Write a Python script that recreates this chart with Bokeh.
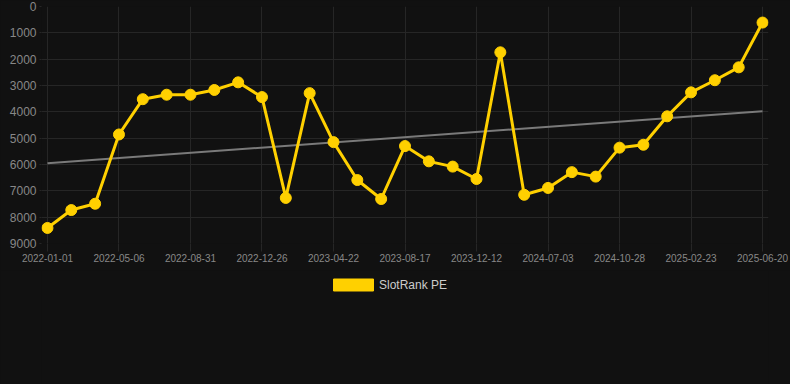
import numpy as np
from bokeh.plotting import figure
from bokeh.layouts import column
from bokeh.models import (Range1d, FixedTicker, Legend, LegendItem,
                          ColumnDataSource, NumeralTickFormatter)
from bokeh.embed import file_html
from bokeh.resources import INLINE

# ---- data ----
dates = ["2022-01-01", "2022-02-12", "2022-03-25", "2022-05-06", "2022-06-14",
         "2022-07-23", "2022-08-31", "2022-10-09", "2022-11-17", "2022-12-26",
         "2023-02-03", "2023-03-14", "2023-04-22", "2023-05-31", "2023-07-09",
         "2023-08-17", "2023-09-25", "2023-11-03", "2023-12-12", "2024-02-10",
         "2024-05-05", "2024-07-03", "2024-08-11", "2024-09-19", "2024-10-28",
         "2024-12-06", "2025-01-14", "2025-02-23", "2025-04-03", "2025-05-12",
         "2025-06-20"]
slotrank_pe = [8410, 7730, 7490, 4860, 3520, 3350, 3350, 3170, 2880, 3440,
               7270, 3290, 5150, 6590, 7310, 5300, 5880, 6080, 6550, 1740,
               7150, 6890, 6290, 6460, 5360, 5250, 4170, 3260, 2800, 2310, 610]
y_ticks = [0, 1000, 2000, 3000, 4000, 5000, 6000, 7000, 8000, 9000]
label_step = 3
series_name = "SlotRank PE"

idx = list(range(len(dates)))
x_ticks = idx[::label_step]
x_labels = {i: dates[i] for i in x_ticks}

# linear trend of the series
coef = np.polyfit(idx, slotrank_pe, 1)
trend_x = [idx[0], idx[-1]]
trend_y = [float(np.polyval(coef, t)) for t in trend_x]

BG = "#111111"
GOLD = "#FFD000"
GRID = "#262626"
TXT = "#888888"
PAD = 0.25  # small x padding so the end markers are not clipped

# ---------- main chart ----------
p = figure(width=790, height=270, output_backend="svg", toolbar_location=None,
           x_range=Range1d(idx[0] - PAD, idx[-1] + PAD),
           y_range=Range1d(9000, 0),
           min_border_left=41, min_border_right=22, min_border_top=6,
           min_border_bottom=27,
           background_fill_color=BG, border_fill_color=BG)
p.outline_line_color = None

p.xaxis.ticker = FixedTicker(ticks=x_ticks)
p.xaxis.major_label_overrides = x_labels
p.yaxis.ticker = FixedTicker(ticks=y_ticks)
p.yaxis.formatter = NumeralTickFormatter(format="0")
for ax in (p.xaxis[0], p.yaxis[0]):
    ax.axis_line_color = None
    ax.major_tick_line_color = GRID
    ax.major_tick_in = 0
    ax.minor_tick_line_color = None
    ax.major_label_text_color = TXT
    ax.major_label_text_font = "Liberation Sans"
p.xaxis.major_label_text_font_size = "10px"
p.yaxis.major_label_text_font_size = "12px"
p.xaxis.major_tick_out = 8
p.xaxis.major_label_standoff = 2
p.yaxis.major_tick_out = 2
p.yaxis.major_label_standoff = 3

p.xgrid.ticker = FixedTicker(ticks=x_ticks)
p.xgrid.grid_line_color = GRID
p.ygrid.grid_line_color = GRID

p.line(trend_x, trend_y, line_color="#7a7a7a", line_width=2)

src = ColumnDataSource(dict(x=idx, y=slotrank_pe))
p.line("x", "y", source=src, line_color=GOLD, line_width=3)
p.scatter("x", "y", source=src, size=11, fill_color=GOLD, line_color=GOLD)

# ---------- legend strip ----------
q = figure(width=790, height=114, output_backend="svg", toolbar_location=None,
           x_range=Range1d(0, 1), y_range=Range1d(0, 1),
           x_axis_type=None, y_axis_type=None,
           min_border_left=0, min_border_right=0, min_border_top=0,
           min_border_bottom=0,
           background_fill_color=BG, border_fill_color=BG)
q.outline_line_color = None
q.grid.visible = False
sw = q.quad(left=[np.nan], right=[np.nan], top=[np.nan], bottom=[np.nan],
            fill_color=GOLD, line_color=GOLD)
legend = Legend(items=[LegendItem(label=series_name, renderers=[sw])],
                location=(287, 92), orientation="horizontal",
                background_fill_alpha=0, border_line_color=None,
                padding=0, margin=0, spacing=0,
                glyph_width=50, glyph_height=15, label_height=15,
                label_standoff=1,
                label_text_color="#cccccc", label_text_font_size="12px",
                label_text_font="Liberation Sans")
q.add_layout(legend, "center")

layout = column(p, q, spacing=0)
html = file_html(layout, INLINE)
html = html.replace(
    "</head>",
    "<style>html, body { background-color: #111111 !important; }</style></head>",
    1)
open("out.html", "w").write(html)
